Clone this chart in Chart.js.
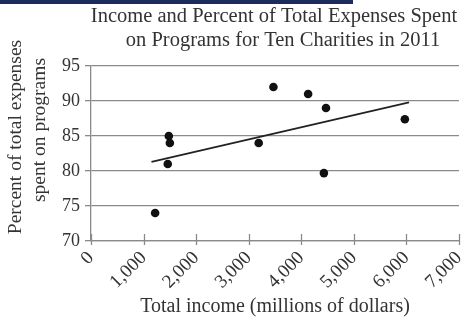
<!DOCTYPE html>
<html lang="en">
<head>
    <meta charset="UTF-8">
    <title>Income and Percent of Total Expenses Spent on Programs</title>
    <script src="https://cdn.jsdelivr.net/npm/chart.js"></script>
    <style>
        body { margin: 0; background: #fff; }
        .top-bar { position: absolute; left: 0; top: 0; width: 353px; height: 4px; background: #1d2b5e; }
        .chart-box { position: relative; width: 464px; height: 329px; }
    </style>
</head>
<body>
    <div class="chart-box">
        <canvas id="charityChart" width="464" height="329"></canvas>
        <div class="top-bar"></div>
    </div>
    <script>
        // 자선단체 10곳 (소득, 프로그램 지출 비율)
        const incomes = [1220, 1460, 1480, 1500, 3190, 3470, 4130, 4470, 4430, 5970];
        const percents = [74.0, 81.0, 85.0, 84.0, 84.0, 92.0, 91.0, 89.0, 79.7, 87.4];
        // 추세선 양 끝점
        const trendX = [1150, 6050];
        const trendY = [81.3, 89.8];
        const titleLines = ['Income and Percent of Total Expenses Spent', 'on Programs for Ten Charities in 2011'];
        const yTitle = ['Percent of total expenses', 'spent on programs'];
        const xTitle = 'Total income (millions of dollars)';

        const serif = "'Liberation Serif', 'DejaVu Serif', serif";
        const textColor = '#333';
        const lineColor = '#8a8a8a';

        // 제목 + 세로축 제목 직접 그리기
        const titlePlugin = {
            id: 'titlePlugin',
            afterDraw(chart) {
                const c = chart.ctx;
                c.save();
                c.fillStyle = textColor;
                c.font = '20.5px ' + serif;
                c.textAlign = 'center';
                c.textBaseline = 'alphabetic';
                c.fillText(titleLines[0], 274, 22);
                c.fillText(titleLines[1], 283, 46);

                c.font = '19.5px ' + serif;
                c.textBaseline = 'middle';
                c.translate(16, 137);
                c.rotate(-Math.PI / 2);
                c.fillText(yTitle[0], 0, 0);
                c.restore();

                c.save();
                c.fillStyle = textColor;
                c.font = '19.5px ' + serif;
                c.textAlign = 'center';
                c.textBaseline = 'middle';
                c.translate(40, 130);
                c.rotate(-Math.PI / 2);
                c.fillText(yTitle[1], 0, 0);
                c.restore();
            }
        };

        // x축 눈금 (축선 위아래로 걸침)
        const xTickPlugin = {
            id: 'xTickPlugin',
            afterDraw(chart) {
                const c = chart.ctx;
                const xs = chart.scales.x;
                const bottom = chart.chartArea.bottom;
                c.save();
                c.strokeStyle = lineColor;
                c.lineWidth = 1.3;
                xs.ticks.forEach(t => {
                    const px = Math.round(xs.getPixelForValue(t.value)) + 0.5;
                    c.beginPath();
                    c.moveTo(px, bottom - 7);
                    c.lineTo(px, bottom + 4);
                    c.stroke();
                });
                c.restore();
            }
        };

        const points = incomes.map((v, i) => ({ x: v, y: percents[i] }));
        const trend = trendX.map((v, i) => ({ x: v, y: trendY[i] }));

        const ctx = document.getElementById('charityChart').getContext('2d');
        const chart = new Chart(ctx, {
            type: 'scatter',
            data: {
                datasets: [{
                    data: points,
                    backgroundColor: '#111',
                    borderWidth: 0,
                    pointRadius: 4.3,
                    pointHoverRadius: 4.3
                }, {
                    type: 'line',
                    data: trend,
                    borderColor: '#222',
                    borderWidth: 1.6,
                    pointRadius: 0,
                    fill: false
                }]
            },
            options: {
                responsive: false,
                animation: false,
                layout: { padding: { top: 66, right: 5, left: 0, bottom: 0 } },
                plugins: {
                    legend: { display: false },
                    tooltip: { enabled: false }
                },
                scales: {
                    x: {
                        type: 'linear',
                        min: 0,
                        max: 7000,
                        afterFit: s => { s.height = 88; s.paddingLeft = 0; s.paddingRight = 0; },
                        grid: { display: false, drawTicks: false },
                        border: { color: lineColor, width: 1.3 },
                        ticks: {
                            stepSize: 1000,
                            maxRotation: 45,
                            minRotation: 45,
                            color: textColor,
                            font: { family: serif, size: 19 },
                            padding: 6,
                            callback: v => v.toLocaleString('en-US')
                        },
                        title: {
                            display: true,
                            text: xTitle,
                            color: textColor,
                            font: { family: serif, size: 20, lineHeight: 1.2 },
                            padding: { top: 2, bottom: 10 }
                        }
                    },
                    y: {
                        min: 70,
                        max: 95,
                        afterFit: s => { s.width = 91; s.paddingTop = 0; s.paddingBottom = 0; },
                        grid: { color: lineColor, lineWidth: 1.3, tickLength: 6 },
                        border: { color: lineColor, width: 1.3 },
                        ticks: {
                            stepSize: 5,
                            color: textColor,
                            font: { family: serif, size: 18 },
                            padding: 5
                        }
                    }
                }
            },
            plugins: [titlePlugin, xTickPlugin]
        });
    </script>
</body>
</html>
